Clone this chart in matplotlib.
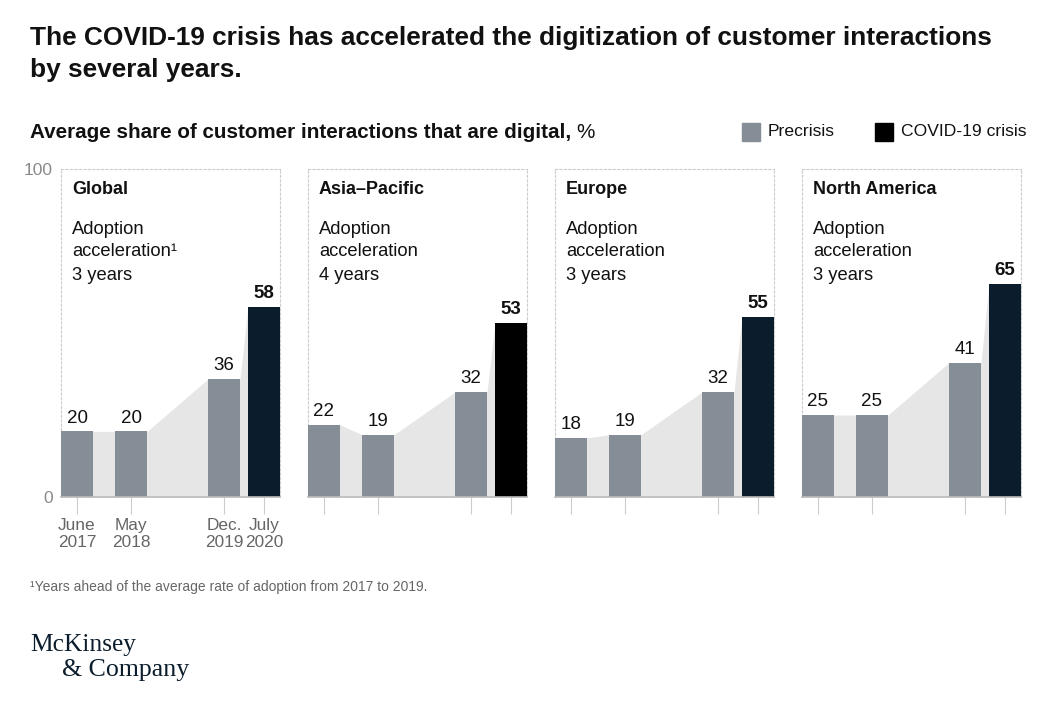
import matplotlib
matplotlib.use("Agg")
import matplotlib.pyplot as plt
import numpy as np

# ---- data ----
regions = ["Global", "Asia\u2013Pacific", "Europe", "North America"]
acceleration_years = [3, 4, 3, 3]
periods = ["June\n2017", "May\n2018", "Dec.\n2019", "July\n2020"]
global_vals = [20, 20, 36, 58]
asia_vals = [22, 19, 32, 53]
europe_vals = [18, 19, 32, 55]
namerica_vals = [25, 25, 41, 65]
series = [global_vals, asia_vals, europe_vals, namerica_vals]
legend_labels = ["Precrisis", "COVID-19 crisis"]

# ---- style ----
W, H = 1056, 702
DPI = 100
FONT = "Liberation Sans"
GRAY = "#858e97"
NAVY = "#0b1d2c"
BLACK = "#000000"
covid_colors = [NAVY, BLACK, NAVY, NAVY]
FILL = "#e6e6e6"
BOX = "#cccccc"
TEXT = "#111111"
MUTED = "#666666"

plt.rcParams["font.family"] = [FONT, "DejaVu Sans"]

fig = plt.figure(figsize=(W / DPI, H / DPI), dpi=DPI)
fig.patch.set_facecolor("white")

def fx(px):
    return px / W

def fy(py):
    return 1 - py / H

# title
fig.text(fx(30), fy(38), "The COVID-19 crisis has accelerated the digitization of customer interactions",
         fontsize=18.9, fontweight="bold", color=TEXT, va="center", ha="left")
fig.text(fx(30), fy(70), "by several years.",
         fontsize=18.9, fontweight="bold", color=TEXT, va="center", ha="left")

# subtitle
sub = fig.text(fx(30), fy(132), "Average share of customer interactions that are digital,",
               fontsize=14.9, fontweight="bold", color=TEXT, va="center", ha="left")
fig.canvas.draw()
bb = sub.get_window_extent()
fig.text(fx(bb.x1 + 5), fy(132), "%", fontsize=14.9, color=TEXT, va="center", ha="left")

# legend
lx = [742, 875]
for i, (lab, col) in enumerate(zip(legend_labels, [GRAY, BLACK])):
    fig.patches.append(plt.Rectangle((fx(lx[i]), fy(141)), fx(18), 18 / H,
                                     transform=fig.transFigure, color=col, figure=fig))
    fig.text(fx(lx[i] + 26), fy(132), lab, fontsize=12.6, color=TEXT, va="center", ha="left")

# panels
panel_w = 219
bar_w = 32
bar_left = [0, 54, 147, 187]
centers = [b + bar_w / 2 for b in bar_left]
y0_px, y100_px = 497, 169

for i, (reg, vals, yrs) in enumerate(zip(regions, series, acceleration_years)):
    left_px = 61 + i * 247
    ax = fig.add_axes([fx(left_px), fy(y0_px), fx(panel_w), (y0_px - y100_px) / H])
    ax.set_xlim(0, panel_w)
    ax.set_ylim(0, 100)
    ax.set_facecolor("none")

    # connecting fill
    xs, ys = [], []
    for b, v in zip(bar_left, vals):
        xs += [b, b + bar_w]
        ys += [v, v]
    ax.fill_between(xs, 0, ys, color=FILL, lw=0, zorder=1)

    cols = [GRAY, GRAY, GRAY, covid_colors[i]]
    ax.bar(bar_left, vals, width=bar_w, align="edge", color=cols, lw=0, zorder=3)

    for j, (c, v) in enumerate(zip(centers, vals)):
        ax.annotate(str(v), (c, v), xytext=(0, 3.5), textcoords="offset points",
                    ha="center", va="bottom", fontsize=13.5, color=TEXT,
                    fontweight="bold" if j == 3 else "normal", zorder=4)

    # box
    for s in ["top", "left", "right"]:
        ax.spines[s].set_linestyle((0, (2, 2)))
        ax.spines[s].set_color(BOX)
        ax.spines[s].set_linewidth(0.8)
        ax.spines[s].set_zorder(2)
    ax.spines["bottom"].set_color("#bbbbbb")
    ax.spines["bottom"].set_linewidth(1.2)
    ax.spines["bottom"].set_zorder(4)

    ax.set_xticks(centers)
    ax.tick_params(axis="x", length=12, width=0.8, color="#cccccc", direction="out",
                   labelsize=12.4, labelcolor=MUTED, pad=3)
    if i == 0:
        ax.set_xticklabels(periods, linespacing=1.2)
        ax.set_yticks([0, 100])
        ax.set_yticklabels(["0", "100"])
        ax.tick_params(axis="y", length=0, labelsize=12.5, labelcolor="#8a8a8a", pad=6)
    else:
        ax.set_xticklabels([])
        ax.set_yticks([])

    # panel text
    ax.text(11, 100 - (190 - y100_px) / 3.28, reg, fontsize=13, fontweight="bold",
            color=TEXT, va="center", ha="left")
    acc = "acceleration\u00b9" if i == 0 else "acceleration"
    ax.text(11, 100 - (230 - y100_px) / 3.28, "Adoption", fontsize=13.2,
            color=TEXT, va="center", ha="left")
    ax.text(11, 100 - (252 - y100_px) / 3.28, acc, fontsize=13.2,
            color=TEXT, va="center", ha="left")
    ax.text(11, 100 - (275 - y100_px) / 3.28, f"{yrs} years", fontsize=13.2,
            color=TEXT, va="center", ha="left")

# footnote
fig.text(fx(30), fy(587), "\u00b9Years ahead of the average rate of adoption from 2017 to 2019.",
         fontsize=10, color=MUTED, va="center", ha="left")

# logo
fig.text(fx(30), fy(645), "McKinsey", fontsize=18.3, family="Liberation Serif",
         color="#0b1d2c", va="center", ha="left")
fig.text(fx(62), fy(670), "& Company", fontsize=18.6, family="Liberation Serif",
         color="#0b1d2c", va="center", ha="left")

fig.savefig("out.png", dpi=DPI, facecolor="white")
